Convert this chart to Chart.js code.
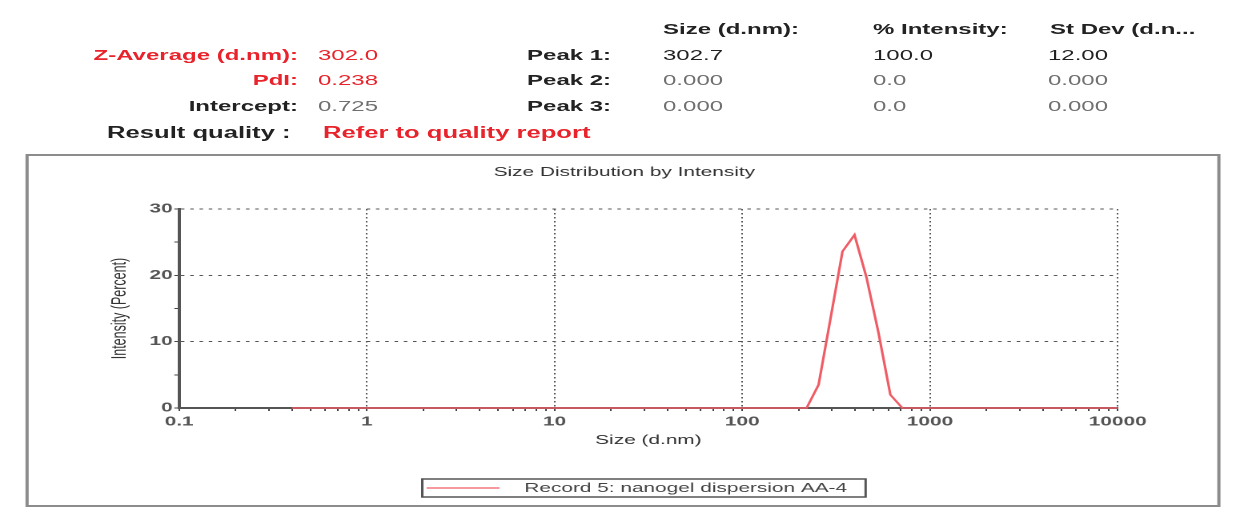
<!DOCTYPE html>
<html>
<head>
<meta charset="utf-8">
<script src="https://cdn.jsdelivr.net/npm/chart.js@4"></script>
<style>
  html, body { margin: 0; padding: 0; background: #fff; }
  body { width: 1233px; height: 519px; overflow: hidden; position: relative; }
  /* the whole report is laid out narrow and stretched sideways */
  #page { position: absolute; left: 0; top: 0; width: 770.625px; height: 519px;
          transform: scaleX(1.6); transform-origin: 0 0; }
  .t { position: absolute; white-space: nowrap; font-family: "Liberation Sans", Arial, sans-serif;
       font-size: 15px; line-height: 18px; color: #222; }
  .b { font-weight: bold; }
  .lab { left: 0; width: 186.25px; text-align: right; }
  .red { color: #e8232b; }
  .grey { color: #707070; }
  .big { font-size: 16px; line-height: 19px; }
  #chartBox { position: absolute; left: 0; top: 0; width: 770.625px; height: 519px; }
</style>
</head>
<body>
<div id="page">
  <div class="t b lab red" style="top:45.5px">Z-Average (d.nm):</div>
  <div class="t red" style="left:198.75px; top:45.5px">302.0</div>
  <div class="t b lab red" style="top:71px">PdI:</div>
  <div class="t red" style="left:198.75px; top:71px">0.238</div>
  <div class="t b lab" style="top:96.5px">Intercept:</div>
  <div class="t grey" style="left:198.75px; top:96.5px">0.725</div>
  <div class="t b big" style="left:66.9px; top:122.5px">Result quality :</div>
  <div class="t b big red" style="left:201.9px; top:122.5px">Refer to quality report</div>

  <div class="t b" style="left:329.4px; top:45.5px">Peak 1:</div>
  <div class="t b" style="left:329.4px; top:71px">Peak 2:</div>
  <div class="t b" style="left:329.4px; top:96.5px">Peak 3:</div>

  <div class="t b" style="left:414.4px; top:19.5px">Size (d.nm):</div>
  <div class="t b" style="left:545.6px; top:19.5px">% Intensity:</div>
  <div class="t b" style="left:656.25px; top:19.5px">St Dev (d.n...</div>

  <div class="t" style="left:414.4px; top:45.5px">302.7</div>
  <div class="t" style="left:545.6px; top:45.5px">100.0</div>
  <div class="t" style="left:655px; top:45.5px">12.00</div>
  <div class="t grey" style="left:414.4px; top:71px">0.000</div>
  <div class="t grey" style="left:545.6px; top:71px">0.0</div>
  <div class="t grey" style="left:655px; top:71px">0.000</div>
  <div class="t grey" style="left:414.4px; top:96.5px">0.000</div>
  <div class="t grey" style="left:545.6px; top:96.5px">0.0</div>
  <div class="t grey" style="left:655px; top:96.5px">0.000</div>

  <div id="chartBox"><canvas id="myChart"></canvas></div>
</div>
<script>
// size classes (d.nm) of the record
const sizes = [
  0.4, 0.4632, 0.5365, 0.6213, 0.7195, 0.8332, 0.9649, 1.117, 1.294, 1.499,
  1.736, 2.01, 2.328, 2.696, 3.122, 3.615, 4.187, 4.849, 5.615, 6.503,
  7.531, 8.721, 10.1, 11.7, 13.54, 15.69, 18.17, 21.04, 24.36, 28.21,
  32.67, 37.84, 43.82, 50.75, 58.77, 68.06, 78.82, 91.28, 105.7, 122.4,
  141.8, 164.2, 190.1, 220.2, 255, 295.3, 342, 396.1, 458.7, 531.2,
  615.1, 712.4, 825, 955.4, 1106, 1281, 1484, 1718, 1990, 2305,
  2669, 3091, 3580, 4145, 4801, 5560, 6439, 7456, 8635, 10000
];
// intensity (%) per size class
const intensity = [
  0, 0, 0, 0, 0, 0, 0, 0, 0, 0,
  0, 0, 0, 0, 0, 0, 0, 0, 0, 0,
  0, 0, 0, 0, 0, 0, 0, 0, 0, 0,
  0, 0, 0, 0, 0, 0, 0, 0, 0, 0,
  0, 0, 0, 0, 3.5, 13.5, 23.6, 26.1, 19.7, 11.4,
  2.0, 0, 0, 0, 0, 0, 0, 0, 0, 0,
  0, 0, 0, 0, 0, 0, 0, 0, 0, 0
];
const recordName = "Record 5: nanogel dispersion AA-4";
const xTickLabels = ["0.1", "1", "10", "100", "1000", "10000"];
const yTickLabels = ["0", "10", "20", "30"];

const FONT = '"Liberation Sans", Arial, sans-serif';

// decade ticks plus 2..9 minor ticks inside each decade
const decades = xTickLabels.map(Number);
const xTickValues = [];
decades.forEach((d, i) => {
  xTickValues.push(d);
  if (i < decades.length - 1) {
    for (let m = 2; m <= 9; m++) xTickValues.push(d * m);
  }
});
const isDecade = (v) => decades.some((d) => Math.abs(v / d - 1) < 1e-6);

// outer frame, chart title and the boxed legend
const framePlugin = {
  id: "frame",
  beforeDraw(chart) {
    const ctx = chart.ctx;
    ctx.save();
    ctx.strokeStyle = "#8c8c8c";
    ctx.lineWidth = 2;
    ctx.strokeRect(16.9, 155, 744.4, 351);
    ctx.restore();
  },
  afterDraw(chart) {
    const ctx = chart.ctx;
    const ds = chart.data.datasets[0];
    ctx.save();
    ctx.fillStyle = "#333";
    ctx.font = "13px " + FONT;
    ctx.textAlign = "center";
    ctx.textBaseline = "middle";
    ctx.fillText("Size Distribution by Intensity", 390, 172.5);

    ctx.strokeStyle = "#555";
    ctx.lineWidth = 1.5;
    ctx.strokeRect(263.75, 479, 276.9, 18);
    ctx.strokeStyle = ds.borderColor;
    ctx.lineWidth = 1.2;
    ctx.beginPath();
    ctx.moveTo(266.5, 488);
    ctx.lineTo(312, 488);
    ctx.stroke();
    ctx.fillStyle = "#444";
    ctx.textAlign = "left";
    ctx.fillText(ds.label, 327.5, 488.5);
    ctx.restore();
  }
};

const ctx = document.getElementById("myChart").getContext("2d");
const myChart = new Chart(ctx, {
  type: "line",
  data: {
    datasets: [
      {
        label: recordName,
        data: sizes.map((s, i) => ({ x: s, y: intensity[i] })),
        borderColor: "#ee5c66",
        borderWidth: 1.6,
        pointRadius: 0,
        tension: 0,
        fill: false,
        clip: false,
      },
    ],
  },
  options: {
    responsive: true,
    maintainAspectRatio: false,
    animation: false,
    devicePixelRatio: 2,
    layout: { padding: { left: 61.875, right: 72.5, top: 209, bottom: 61 } },
    plugins: {
      legend: { display: false },
      title: { display: false },
      tooltip: { enabled: false },
    },
    scales: {
      x: {
        type: "logarithmic",
        min: 0.1,
        max: 10000,
        afterBuildTicks: (scale) => {
          scale.ticks = xTickValues.map((v) => ({ value: v }));
        },
        afterFit: (scale) => { scale.height = 50; },
        ticks: {
          autoSkip: false,
          maxRotation: 0,
          padding: 3,
          color: "#555",
          font: { family: FONT, size: 13, weight: "bold" },
          callback: (v) => {
            const i = decades.findIndex((d) => Math.abs(v / d - 1) < 1e-6);
            return i >= 0 ? xTickLabels[i] : "";
          },
        },
        grid: {
          color: (c) => (c.tick && isDecade(c.tick.value) ? "#555" : "rgba(0,0,0,0)"),
          lineWidth: 1,
          tickLength: 3,
          tickColor: "#444",
          tickWidth: 1,
        },
        border: { color: "#555", width: 2, dash: [1.5, 2.5] },
        title: {
          display: true,
          text: "Size (d.nm)",
          color: "#333",
          font: { family: FONT, size: 13 },
          padding: { top: 0, bottom: 10 },
        },
      },
      y: {
        min: 0,
        max: 30,
        afterFit: (scale) => { scale.width = 50; },
        ticks: {
          stepSize: 5,
          autoSkip: false,
          padding: 1,
          color: "#555",
          font: { family: FONT, size: 13, weight: "bold" },
          callback: (v) => (yTickLabels.includes(String(v)) ? String(v) : ""),
        },
        grid: {
          color: (c) =>
            c.tick && c.tick.value > 0 && yTickLabels.includes(String(c.tick.value))
              ? "#555"
              : "rgba(0,0,0,0)",
          lineWidth: 1,
          tickLength: 3,
          tickColor: "#444",
          tickWidth: 1,
        },
        border: { color: "#555", width: 2, dash: [2.2, 3.6] },
        title: {
          display: true,
          text: "Intensity (Percent)",
          color: "#333",
          font: { family: FONT, size: 12.5 },
          padding: { top: 5.6, bottom: 0 },
        },
      },
    },
  },
  plugins: [framePlugin],
});
</script>
</body>
</html>
